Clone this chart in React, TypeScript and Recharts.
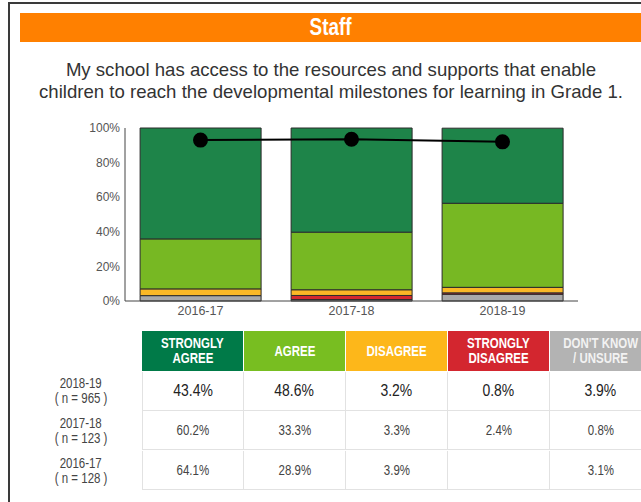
import React from "react";
import {
  ComposedChart,
  Bar,
  Line,
  XAxis,
  YAxis,
} from "recharts";

const years = ["2016-17", "2017-18", "2018-19"];
const sampleSizes = [128, 123, 965];
const stronglyAgree = [64.1, 60.2, 43.4];
const agree = [28.9, 33.3, 48.6];
const disagree = [3.9, 3.3, 3.2];
const stronglyDisagree: (number | null)[] = [null, 2.4, 0.8];
const dontKnow = [3.1, 0.8, 3.9];
// agree + strongly agree
const agreeTotal = [93.0, 93.5, 92.0];
const yTicks = [0, 20, 40, 60, 80, 100];

const categories = [
  { key: "sa", label: ["STRONGLY", "AGREE"], bar: "#1e8449", head: "#007a48", values: stronglyAgree },
  { key: "a", label: ["AGREE"], bar: "#77b823", head: "#78be21", values: agree },
  { key: "d", label: ["DISAGREE"], bar: "#fbb826", head: "#fdb71a", values: disagree },
  { key: "sd", label: ["STRONGLY", "DISAGREE"], bar: "#d42a2f", head: "#d3262f", values: stronglyDisagree },
  { key: "dk", label: ["DON'T KNOW", "/ UNSURE"], bar: "#a9a9a9", head: "#b3b3b3", values: dontKnow },
];

// stacking order, bottom to top
const stackOrder = ["dk", "sd", "d", "a", "sa"];

const data = years.map((year, i) => {
  const row: Record<string, string | number | null> = { year, total: agreeTotal[i] };
  categories.forEach((c) => {
    row[c.key] = c.values[i];
  });
  return row;
});

const sans = "'Liberation Sans', Arial, sans-serif";

// no narrow font installed, so squeeze the regular one
const Narrow = ({ children }: { children: React.ReactNode }) => (
  <span style={{ display: "inline-block", transform: "scaleX(0.82)", whiteSpace: "nowrap" }}>
    {children}
  </span>
);

export default function App() {
  const rows = years.map((_, i) => i).reverse();

  return (
    <div
      style={{
        position: "absolute",
        left: 0,
        top: 0,
        width: 641,
        height: 502,
        overflow: "hidden",
        background: "#fff",
        fontFamily: sans,
      }}
    >
      {/* frame */}
      <div
        style={{
          position: "absolute",
          left: 8,
          top: 2,
          width: 700,
          height: 600,
          borderLeft: "2px solid #3a3a3a",
          borderTop: "2px solid #3a3a3a",
        }}
      />

      <div
        style={{
          position: "absolute",
          left: 20,
          top: 13,
          width: 622,
          height: 29,
          background: "#ff8000",
          color: "#fff",
          fontWeight: "bold",
          fontSize: 23,
          lineHeight: "29px",
          textAlign: "center",
        }}
      >
        <Narrow>Staff</Narrow>
      </div>

      <div
        style={{
          position: "absolute",
          left: 0,
          top: 59,
          width: 662,
          textAlign: "center",
          fontSize: 18.6,
          lineHeight: "22px",
          color: "#333",
        }}
      >
        My school has access to the resources and supports that enable
        <br />
        children to reach the developmental milestones for learning in Grade 1.
      </div>

      <div style={{ position: "absolute", left: 70, top: 118 }}>
        <ComposedChart
          width={508}
          height={203}
          data={data}
          margin={{ top: 10, right: 0, bottom: 0, left: 0 }}
          barCategoryGap="10%"
        >
          <XAxis
            dataKey="year"
            tickSize={0}
            tickMargin={5}
            axisLine={{ stroke: "#444" }}
            tick={{ fill: "#555", fontSize: 12.5, fontFamily: sans }}
            height={20}
          />
          <YAxis
            width={55}
            domain={[0, 100]}
            ticks={yTicks}
            tickFormatter={(v) => `${v}%`}
            tickSize={0}
            tickMargin={5}
            axisLine={{ stroke: "#444" }}
            tick={{ fill: "#555", fontSize: 12, fontFamily: sans }}
          />
          {stackOrder.map((k) => {
            const c = categories.find((cat) => cat.key === k)!;
            return (
              <Bar
                key={k}
                dataKey={k}
                stackId="s"
                fill={c.bar}
                stroke="#2b2b2b"
                strokeWidth={1}
                isAnimationActive={false}
              />
            );
          })}
          <Line
            dataKey="total"
            type="linear"
            stroke="#000"
            strokeWidth={2}
            dot={{ r: 6.5, fill: "#000", stroke: "#000" }}
            isAnimationActive={false}
          />
        </ComposedChart>
      </div>

      {/* table */}
      <div style={{ position: "absolute", left: 20, top: 331 }}>
        <div style={{ display: "flex" }}>
          <div style={{ width: 122 }} />
          {categories.map((c) => (
            <div
              key={c.key}
              style={{
                width: 101,
                height: 40,
                marginRight: 1,
                background: c.head,
                color: c.key === "dk" ? "#f2f2f2" : "#fff",
                fontWeight: "bold",
                fontSize: 14,
                lineHeight: "15px",
                display: "flex",
                flexDirection: "column",
                alignItems: "center",
                justifyContent: "center",
                textAlign: "center",
              }}
            >
              {c.label.map((l) => (
                <Narrow key={l}>{l}</Narrow>
              ))}
            </div>
          ))}
        </div>
        {rows.map((i, r) => (
          <div key={years[i]} style={{ display: "flex" }}>
            <div
              style={{
                width: 122,
                height: 40,
                display: "flex",
                flexDirection: "column",
                alignItems: "center",
                justifyContent: "center",
                fontSize: 14,
                lineHeight: "15px",
                color: "#444",
              }}
            >
              <Narrow>{years[i]}</Narrow>
              <Narrow>( n = {sampleSizes[i]} )</Narrow>
            </div>
            {categories.map((c, ci) => {
              const v = c.values[i];
              return (
                <div
                  key={c.key}
                  style={{
                    width: 102,
                    height: 39,
                    borderBottom: "1px solid #e2e2e2",
                    borderLeft: ci === 0 ? "1px solid #e2e2e2" : "none",
                    borderRight: "1px solid #e2e2e2",
                    boxSizing: "border-box",
                    marginTop: r === 0 ? 1 : 0,
                    display: "flex",
                    alignItems: "center",
                    justifyContent: "center",
                    fontSize: r === 0 ? 17 : 14,
                    color: r === 0 ? "#222" : "#444",
                  }}
                >
                  <Narrow>{v == null ? "" : `${v.toFixed(1)}%`}</Narrow>
                </div>
              );
            })}
          </div>
        ))}
      </div>
    </div>
  );
}
